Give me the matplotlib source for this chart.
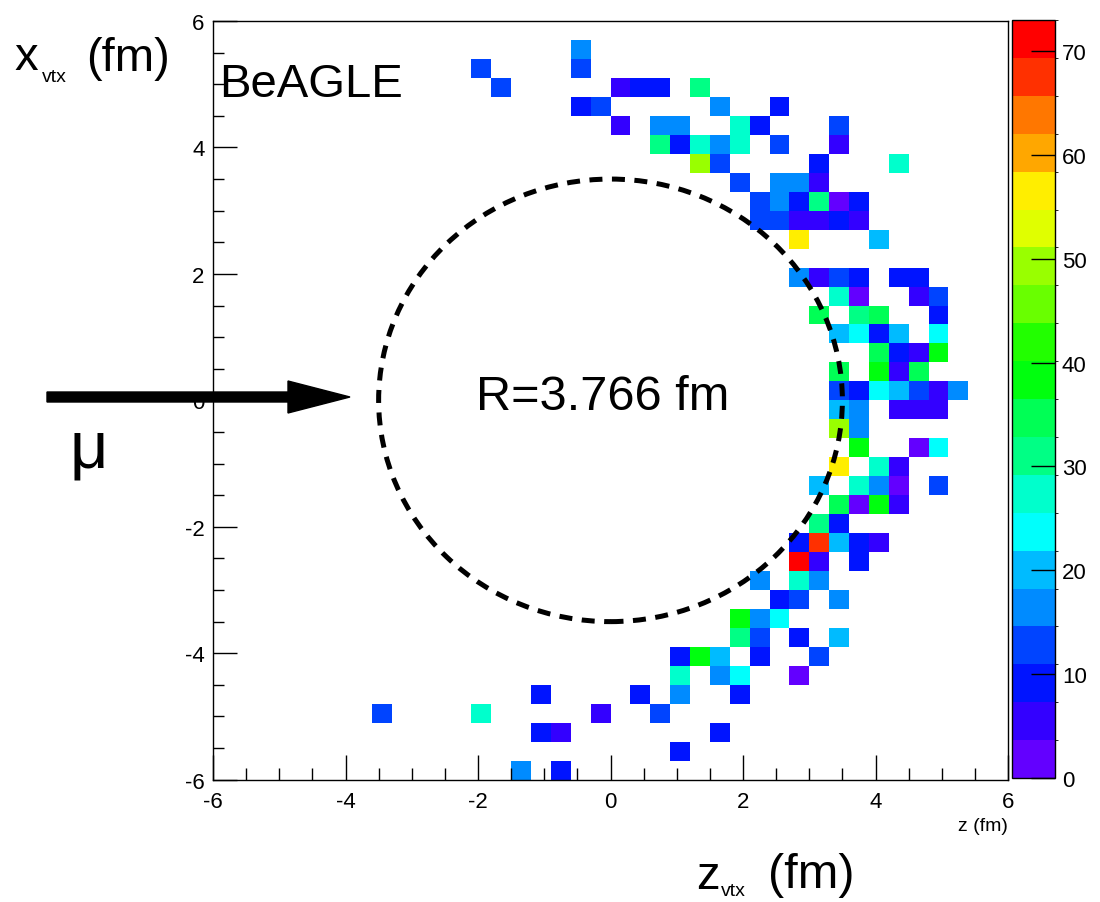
import colorsys

import numpy as np
import matplotlib
matplotlib.use('Agg')
import matplotlib.pyplot as plt
from matplotlib.colors import ListedColormap, BoundaryNorm
from matplotlib.patches import Circle, FancyArrow
from matplotlib.ticker import MultipleLocator

plt.rcParams['font.family'] = ['Liberation Sans', 'DejaVu Sans']
plt.rcParams['axes.unicode_minus'] = False

# filled cells of the 40x40 histogram (bin centres in fm), one row per x bin
x_rows = [5.55, 5.25, 4.95, 4.65, 4.35, 4.05, 3.75, 3.45, 3.15, 2.85, 2.55,
          1.95, 1.65, 1.35, 1.05, 0.75, 0.45, 0.15, -0.15, -0.45, -0.75,
          -1.05, -1.35, -1.65, -1.95, -2.25, -2.55, -2.85, -3.15, -3.45,
          -3.75, -4.05, -4.35, -4.65, -4.95, -5.25, -5.55, -5.85]
z_rows = [
    [-0.45],
    [-1.95, -0.45],
    [-1.65, 0.15, 0.45, 0.75, 1.35],
    [-0.45, -0.15, 1.65, 2.55],
    [0.15, 0.75, 1.05, 1.95, 2.25, 3.45],
    [0.75, 1.05, 1.35, 1.65, 1.95, 2.55, 3.45],
    [1.35, 1.65, 3.15, 4.35],
    [1.95, 2.55, 2.85, 3.15],
    [2.25, 2.55, 2.85, 3.15, 3.45, 3.75],
    [2.25, 2.55, 2.85, 3.15, 3.45, 3.75],
    [2.85, 4.05],
    [2.85, 3.15, 3.45, 3.75, 4.35, 4.65],
    [3.45, 3.75, 4.65, 4.95],
    [3.15, 3.75, 4.05, 4.95],
    [3.45, 3.75, 4.05, 4.35, 4.95],
    [4.05, 4.35, 4.65, 4.95],
    [3.45, 4.05, 4.35, 4.65],
    [3.45, 3.75, 4.05, 4.35, 4.65, 4.95, 5.25],
    [3.45, 3.75, 4.35, 4.65, 4.95],
    [3.45, 3.75],
    [3.75, 4.65, 4.95],
    [3.45, 4.05, 4.35],
    [3.15, 3.75, 4.05, 4.35, 4.95],
    [3.45, 3.75, 4.05, 4.35],
    [3.15, 3.45],
    [2.85, 3.15, 3.45, 3.75, 4.05],
    [2.85, 3.15, 3.75],
    [2.25, 2.85, 3.15],
    [2.55, 2.85, 3.45],
    [1.95, 2.25, 2.55],
    [1.95, 2.25, 2.85, 3.45],
    [1.05, 1.35, 1.65, 2.25, 3.15],
    [1.05, 1.65, 1.95, 2.85],
    [-1.05, 0.45, 1.05, 1.95],
    [-3.45, -1.95, -0.15, 0.75],
    [-1.05, -0.75, 1.65],
    [1.05],
    [-1.35, -0.75],
]
count_rows = [
    [17],
    [13, 13],
    [13, 6, 9, 9, 31],
    [9, 13, 17, 9],
    [6, 17, 17, 28, 9, 13],
    [31, 9, 28, 17, 28, 13, 6],
    [50, 13, 9, 28],
    [13, 17, 17, 6],
    [13, 17, 9, 31, 2, 9],
    [13, 13, 6, 6, 9, 6],
    [57, 20],
    [17, 6, 13, 9, 9, 9],
    [28, 2, 6, 13],
    [35, 31, 35, 9],
    [20, 24, 9, 20, 24],
    [35, 9, 6, 39],
    [35, 39, 6, 35],
    [13, 9, 24, 20, 13, 6, 17],
    [20, 17, 6, 6, 6],
    [48, 17],
    [39, 2, 24],
    [57, 28, 6],
    [20, 28, 17, 2, 13],
    [35, 2, 39, 6],
    [31, 9],
    [9, 68, 20, 9, 6],
    [73, 6, 9],
    [17, 28, 17],
    [9, 13, 17],
    [39, 17, 24],
    [31, 13, 9, 20],
    [9, 39, 20, 9, 13],
    [28, 17, 24, 2],
    [9, 9, 17, 9],
    [13, 28, 6, 13],
    [9, 6, 9],
    [9],
    [17, 9],
]
cbar_ticks = [0, 10, 20, 30, 40, 50, 60, 70]

z_vtx = []
x_vtx = []
counts = []
for xr, zs, cs in zip(x_rows, z_rows, count_rows):
    for zz, cc in zip(zs, cs):
        z_vtx.append(zz)
        x_vtx.append(xr)
        counts.append(cc)

# ROOT "pretty" palette, 20 contour levels
ncont = 20
cols = []
for k in range(ncont):
    idx = int((k + 0.99) * 50 / ncont)
    hue = 280 - (idx + 1) * 5.6
    cols.append(colorsys.hls_to_rgb(hue / 360.0, 0.5, 1.0))
cmap = ListedColormap(cols)
zmax = max(counts)
norm = BoundaryNorm(np.linspace(0, zmax, ncont + 1), ncont)

W, H = 1100, 903
fig = plt.figure(figsize=(W / 100, H / 100), dpi=100)
ax = fig.add_axes([213 / W, 1 - 780.7 / H, 795 / W, 758.7 / H])
cax = fig.add_axes([1011.7 / W, 1 - 779 / H, 43.3 / W, 758 / H])

h = ax.hist2d(z_vtx, x_vtx, bins=40, range=[[-6, 6], [-6, 6]],
              weights=counts, cmin=0.5, cmap=cmap, norm=norm)

ax.set_xlim(-6, 6)
ax.set_ylim(-6, 6)
ax.xaxis.set_major_locator(MultipleLocator(2))
ax.xaxis.set_minor_locator(MultipleLocator(0.5))
ax.yaxis.set_major_locator(MultipleLocator(2))
ax.yaxis.set_minor_locator(MultipleLocator(0.5))
ax.tick_params(which='both', direction='in', top=False, right=False,
               labelsize=16, width=1)
ax.tick_params(axis='x', which='major', length=18, pad=8)
ax.tick_params(axis='x', which='minor', length=9)
ax.tick_params(axis='y', which='major', length=17, pad=6)
ax.tick_params(axis='y', which='minor', length=8)
for s in ax.spines.values():
    s.set_linewidth(1)
ax.set_xlabel('z (fm)', loc='right', fontsize=14, labelpad=4)

# nuclear radius circle
ax.add_patch(Circle((0, 0), 3.5, fill=False, color='k', lw=3.6,
                    linestyle=(0, (2.6, 1.9))))

cb = fig.colorbar(h[3], cax=cax, ticks=cbar_ticks)
cb.outline.set_linewidth(1)
cax.tick_params(direction='in', length=17, width=1, labelsize=16, pad=5)

def ftext(x, y, s, **kw):
    fig.text(x / W, 1 - y / H, s, **kw)

ftext(219, 97, 'BeAGLE', fontsize=34, va='baseline')
ftext(603, 398, 'R=3.766 fm', fontsize=35, ha='center', va='center')
ftext(70, 468, 'μ', fontsize=48, va='baseline')

ftext(14, 70, 'x', fontsize=34, va='baseline')
ftext(42, 82, 'vtx', fontsize=14, va='baseline')
ftext(86, 71, '(fm)', fontsize=34, va='baseline')

ftext(696, 889, 'z', fontsize=34, va='baseline')
ftext(721, 896, 'vtx', fontsize=14, va='baseline')
ftext(768, 888, '(fm)', fontsize=35, va='baseline')

fig.add_artist(FancyArrow(47 / W, 1 - 398 / H, (350 - 47) / W, 0,
                          width=10 / H, head_width=32 / H, head_length=62 / W,
                          length_includes_head=True, color='k',
                          transform=fig.transFigure))

fig.savefig('out.png', dpi=100)
plt.close(fig)
